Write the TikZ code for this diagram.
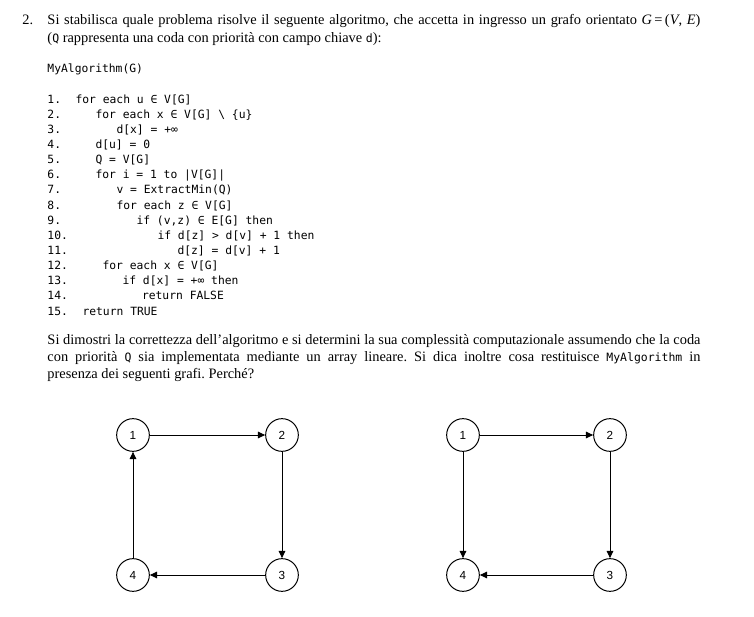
\documentclass[tikz,border=0pt]{standalone}
\usepackage{fontspec}
\setmainfont{Liberation Serif}
\newfontfamily\codefont{DejaVu Sans Mono}
\newfontfamily\labelfont{Liberation Sans}
\usetikzlibrary{arrows.meta}

\newcommand{\codetxt}[1]{{\codefont\fontsize{8.6}{10}\selectfont #1}}
\frenchspacing

\tikzset{every picture/.style={line width=0.75pt},
  txt/.style={anchor=base west, inner sep=0pt, align=left, font=\fontsize{10.8}{13}\selectfont},
  para/.style={txt, text width=489.75pt, align=justify},
  codeline/.style={anchor=base west, inner sep=0pt, font=\codefont\fontsize{8.5}{10}\selectfont},
  vertex/.style={circle, draw, fill=white, minimum size=24.5pt, inner sep=0pt, font=\labelfont\fontsize{8.8}{10}\selectfont},
  link/.style={-{Triangle[length=5.5pt,width=5pt]}}
}

\begin{document}
\begin{tikzpicture}[x=0.75pt,y=0.75pt,yscale=-1,xscale=1]
    \useasboundingbox (0,0) rectangle (754,617); %set diagram size to 754 x 617

    % Text Node
    \node (qnum) [txt] at (22,25) {2.};
    % Text Node
    \node (qtext) [para] at (47,25) {Si stabilisca quale problema risolve il seguente algoritmo, che accetta in ingresso un grafo orientato \textit{G}\,=\,(\textit{V}, \textit{E})\linebreak (\codetxt{Q} rappresenta una coda con priorità con campo chiave \codetxt{d}):};
    % Text Node
    \node (algname) [codeline] at (47,73) {MyAlgorithm(G)};

    % Text Node
    \node (n1) [codeline] at (47,103.3) {1.};
    \node (l1) [codeline] at (75,103.3) {for each u ∈ V[G]};
    % Text Node
    \node (n2) [codeline] at (47,118.4) {2.};
    \node (l2) [codeline] at (95,118.4) {for each x ∈ V[G] \textbackslash\ \{u\}};
    % Text Node
    \node (n3) [codeline] at (47,133.5) {3.};
    \node (l3) [codeline] at (116,133.5) {d[x] = +∞};
    % Text Node
    \node (n4) [codeline] at (47,148.7) {4.};
    \node (l4) [codeline] at (95,148.7) {d[u] = 0};
    % Text Node
    \node (n5) [codeline] at (47,163.8) {5.};
    \node (l5) [codeline] at (95,163.8) {Q = V[G]};
    % Text Node
    \node (n6) [codeline] at (47,178.9) {6.};
    \node (l6) [codeline] at (95,178.9) {for i = 1 to |V[G]|};
    % Text Node
    \node (n7) [codeline] at (47,194.0) {7.};
    \node (l7) [codeline] at (116,194.0) {v = ExtractMin(Q)};
    % Text Node
    \node (n8) [codeline] at (47,209.1) {8.};
    \node (l8) [codeline] at (116,209.1) {for each z ∈ V[G]};
    % Text Node
    \node (n9) [codeline] at (47,224.3) {9.};
    \node (l9) [codeline] at (136,224.3) {if (v,z) ∈ E[G] then};
    % Text Node
    \node (n10) [codeline] at (47,239.4) {10.};
    \node (l10) [codeline] at (157,239.4) {if d[z] > d[v] + 1 then};
    % Text Node
    \node (n11) [codeline] at (47,254.5) {11.};
    \node (l11) [codeline] at (177,254.5) {d[z] = d[v] + 1};
    % Text Node
    \node (n12) [codeline] at (47,269.6) {12.};
    \node (l12) [codeline] at (102,269.6) {for each x ∈ V[G]};
    % Text Node
    \node (n13) [codeline] at (47,284.7) {13.};
    \node (l13) [codeline] at (122,284.7) {if d[x] = +∞ then};
    % Text Node
    \node (n14) [codeline] at (47,299.9) {14.};
    \node (l14) [codeline] at (141.5,299.9) {return FALSE};
    % Text Node
    \node (n15) [codeline] at (47,315.0) {15.};
    \node (l15) [codeline] at (82,315.0) {return TRUE};

    % Text Node
    \node (task) [para] at (47,344) {Si dimostri la correttezza dell’algoritmo e si determini la sua complessità computazionale assumendo che la coda\linebreak con priorità \codetxt{Q} sia implementata mediante un array lineare. Si dica inoltre cosa restituisce \codetxt{MyAlgorithm} in\linebreak presenza dei seguenti grafi. Perché?};

    %Shape: Circle (first graph)
    \node (a1) [vertex] at (133,435) {1};
    \node (a2) [vertex] at (282,435) {2};
    \node (a3) [vertex] at (282,575) {3};
    \node (a4) [vertex] at (133,575) {4};
    %Straight Lines
    \draw [link] (a1) -- (a2);
    \draw [link] (a2) -- (a3);
    \draw [link] (a3) -- (a4);
    \draw [link] (a4) -- (a1);

    %Shape: Circle (second graph)
    \node (b1) [vertex] at (463,435) {1};
    \node (b2) [vertex] at (610,435) {2};
    \node (b3) [vertex] at (610,575) {3};
    \node (b4) [vertex] at (463,575) {4};
    %Straight Lines
    \draw [link] (b1) -- (b2);
    \draw [link] (b2) -- (b3);
    \draw [link] (b3) -- (b4);
    \draw [link] (b1) -- (b4);

\end{tikzpicture}
\end{document}
